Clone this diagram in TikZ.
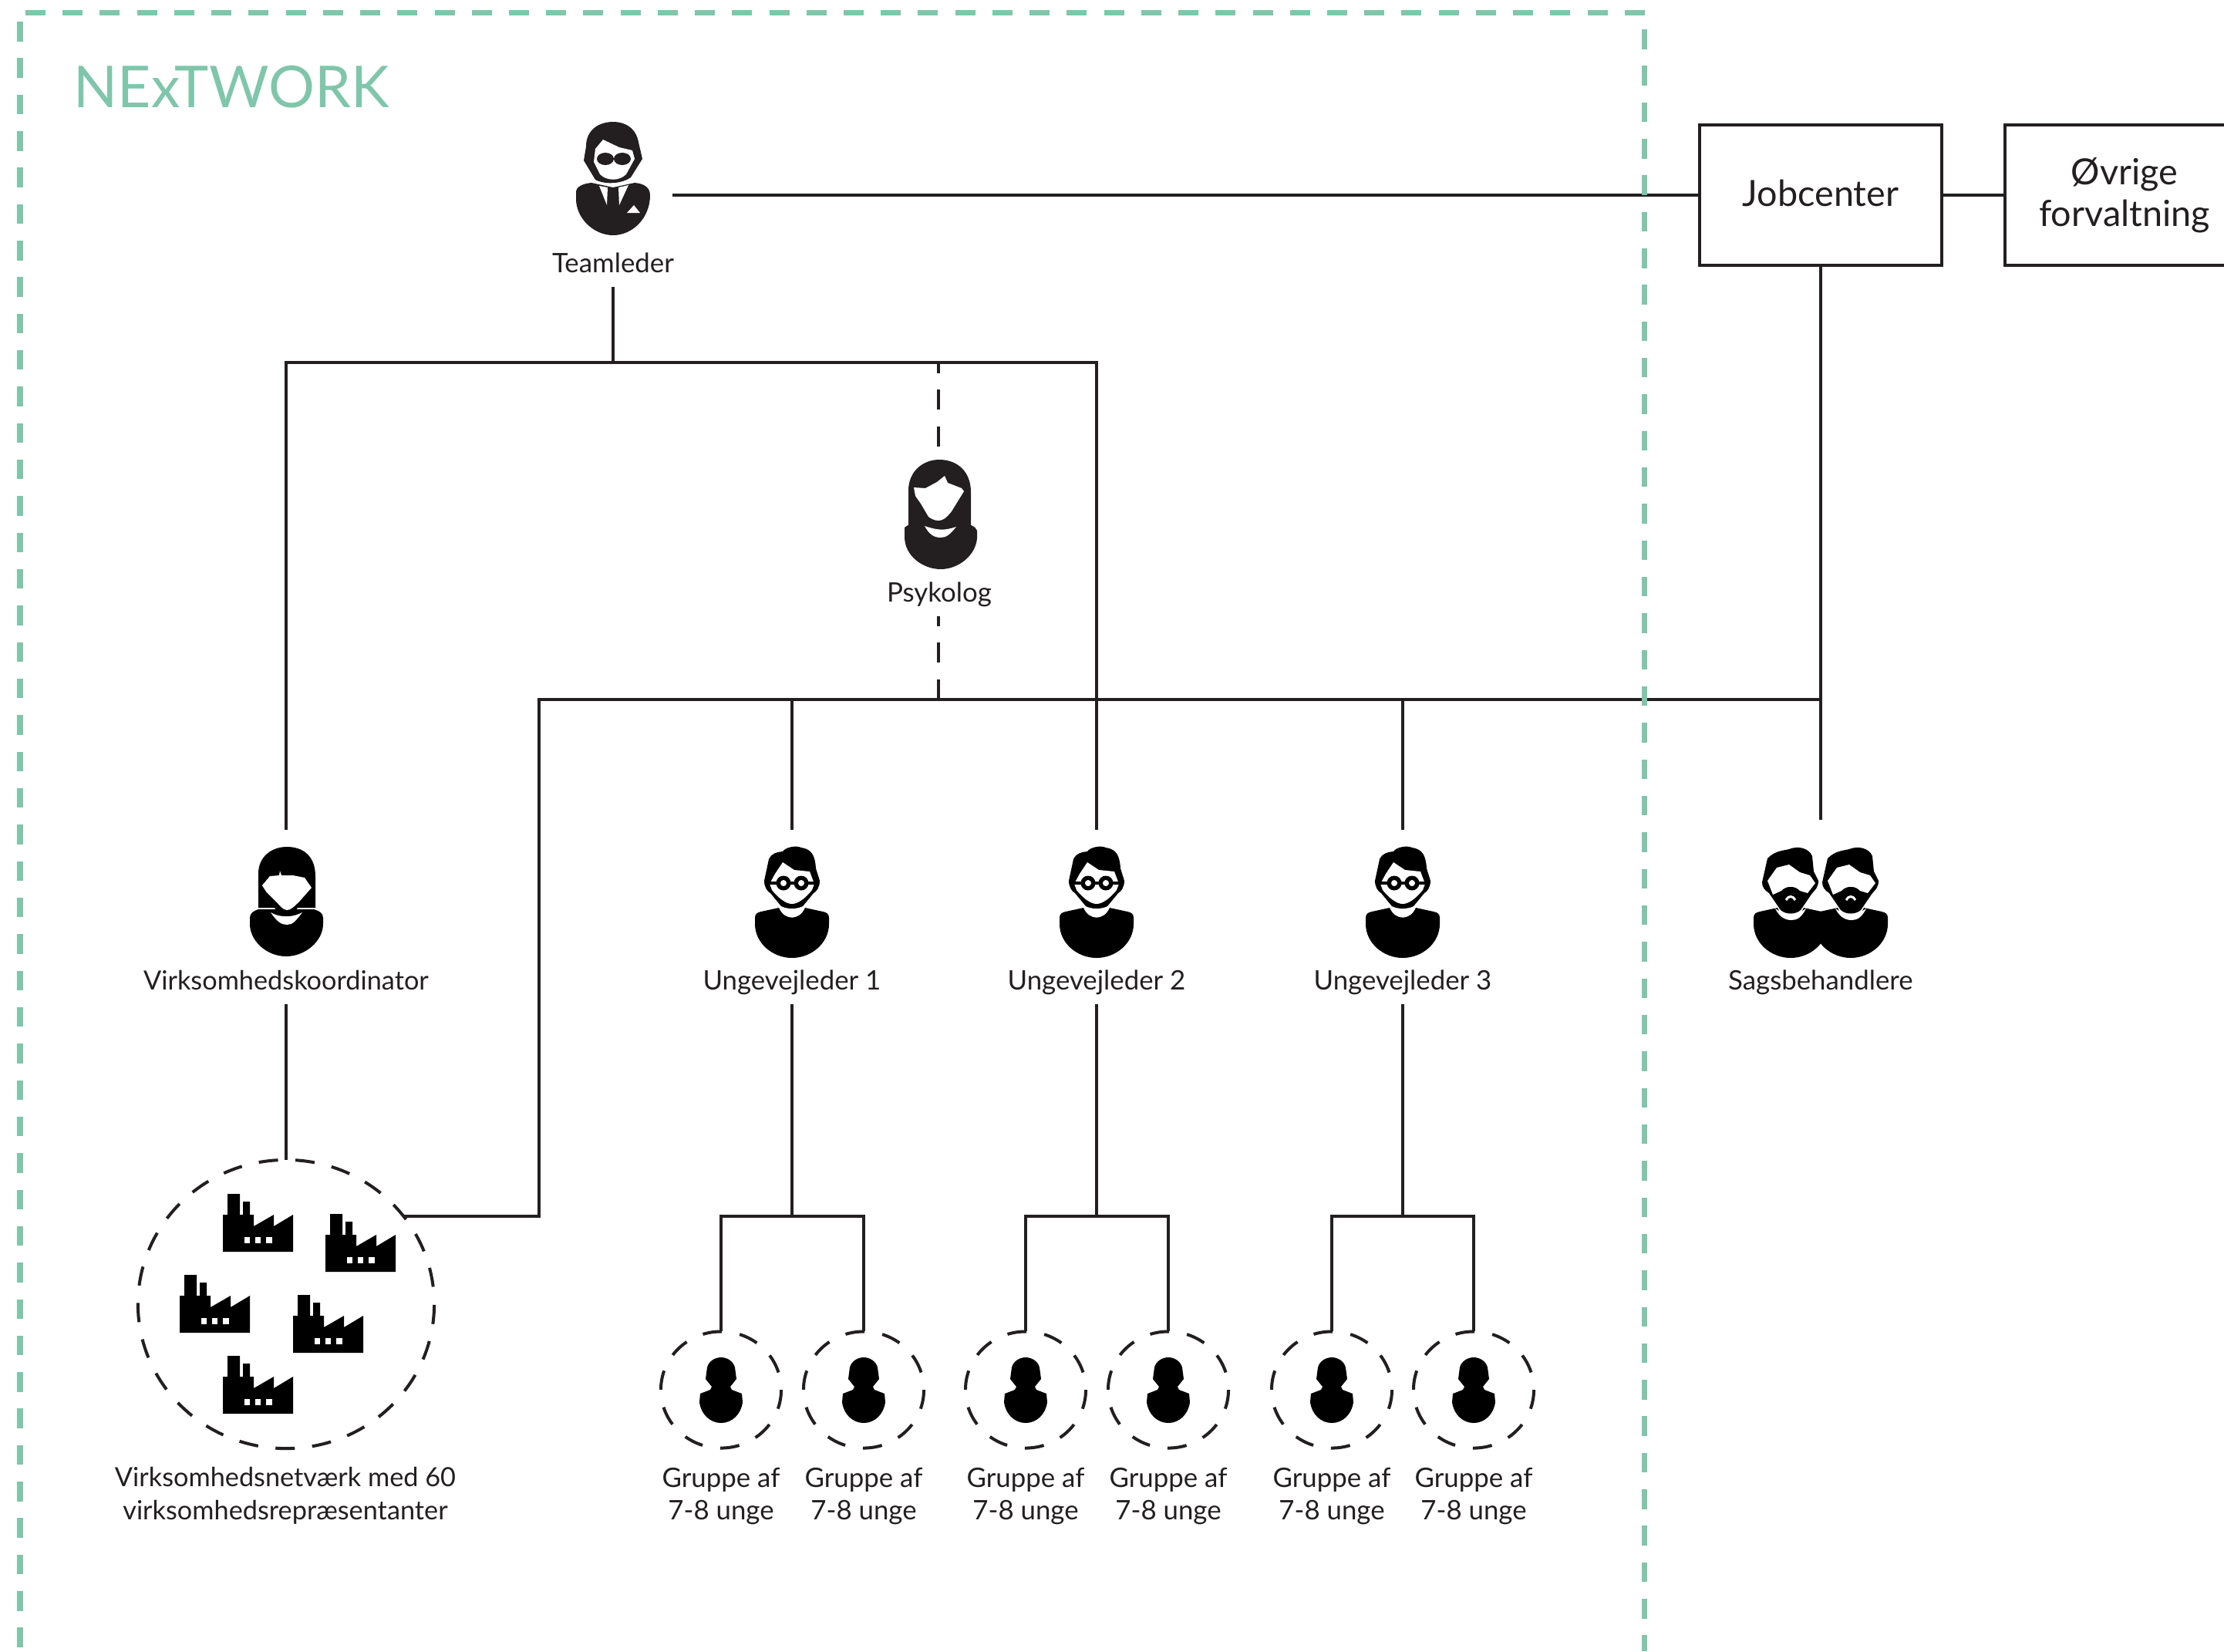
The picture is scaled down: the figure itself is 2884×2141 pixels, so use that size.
\documentclass[tikz,border=0pt]{standalone}
\usepackage{fontspec}
\setmainfont{Lato}
\usetikzlibrary{calc,positioning,shapes.geometric}

\definecolor{ink}{HTML}{231F20}
\definecolor{nextgreen}{HTML}{7FC6AB}

% people, origin at the top centre of the icon
\tikzset{
  pics/bodyshape/.style={code={
    \fill (-48,100) -- (-48,92) .. controls (-48,87) and (-45,85) .. (-40,84) -- (-17,79)
      .. controls (-10,96) and (10,96) .. (17,79) -- (40,84)
      .. controls (45,85) and (48,87) .. (48,92) -- (48,100)
      .. controls (48,125) and (25,144) .. (0,144)
      .. controls (-25,144) and (-48,125) .. (-48,100) -- cycle;
  }},
  pics/glasses/.style={code={
    \fill (-36,44) -- (-30,16) .. controls (-26,8) and (-20,7) .. (-12,6)
      .. controls (-8,0) and (6,-2) .. (12,1) .. controls (26,3) and (30,12) .. (31,28)
      -- (36,44) .. controls (36,52) and (32,58) .. (28,60) -- (14,77)
      .. controls (6,81) and (-6,81) .. (-14,77) -- (-28,60)
      .. controls (-32,58) and (-36,52) .. (-36,44) -- cycle;
    \fill[white] (-29,48) -- (-22,35) -- (-12,20) -- (3,30) -- (23,32) -- (29,48) -- (26,56)
      .. controls (18,66) and (8,74) .. (0,74) .. controls (-8,74) and (-18,66) .. (-26,56) -- cycle;
    \fill (-11,47) circle (9.5);
    \fill (12,47) circle (9.5);
    \fill (-32,45) rectangle (32,49);
    \fill[white] (-11,47) circle (4);
    \fill[white] (12,47) circle (4);
    \pic {bodyshape};
  }},
  pics/bearded/.style={code={
    \pic {bodyshape};
    \fill[white] (-20,80) .. controls (-10,88) and (10,88) .. (20,80)
      .. controls (14,92) and (8,95) .. (1,95) .. controls (-6,95) and (-14,92) .. (-20,80) -- cycle;
    \fill (-37,46) -- (-30,15) .. controls (-20,5) and (-10,5) .. (-2,3)
      .. controls (10,-2) and (24,2) .. (28,12) -- (30,32) -- (36,44)
      .. controls (36,52) and (32,56) .. (28,60) -- (13,82)
      .. controls (6,88) and (-6,88) .. (-13,82) -- (-28,60)
      .. controls (-34,56) and (-37,52) .. (-37,46) -- cycle;
    \fill[white] (-30,44) -- (-18,27) -- (-2,23) -- (12,33) -- (25,37) -- (32,47) -- (22,60)
      -- (12,57) .. controls (6,50) and (-6,50) .. (-12,57) -- (-23,62) -- cycle;
    \draw[white,line width=.03cm] (-6,69) .. controls (-3,63) and (3,63) .. (6,69);
  }},
  pics/bossman/.style={code={
    \fill (-48,100) -- (-48,90) .. controls (-48,85) and (-40,80) .. (-28,79) -- (0,85) -- (28,79)
      .. controls (40,80) and (48,85) .. (48,95)
      .. controls (48,125) and (25,147) .. (0,147)
      .. controls (-25,147) and (-48,125) .. (-48,100) -- cycle;
    \fill (-35,32) .. controls (-35,10) and (-18,0) .. (0,0) .. controls (16,0) and (28,8) .. (32,22)
      -- (38,48) -- (23,72) .. controls (12,80) and (-10,82) .. (-23,75) -- (-38,50) -- cycle;
    \fill[white] (-25,52) -- (-23,35) -- (-13,23) -- (8,33) -- (25,37) -- (28,48) -- (17,68)
      .. controls (8,77) and (-8,77) .. (-17,68) -- cycle;
    \fill (-10,48) ellipse (11 and 8);
    \fill (12,48) ellipse (11 and 8);
    \fill[white] (-18,83) -- (-8,108) -- (-7,85) -- cycle;
    \fill[white] (20,82) -- (8,108) -- (7,85) -- cycle;
    \fill[white] (18,118) -- (27,108) -- (35,118) -- cycle;
  }},
  pics/hairwoman/.style={code={
    \fill (-39,88) -- (-39,40) .. controls (-39,15) and (-20,0) .. (1,0)
      .. controls (24,0) and (42,15) .. (42,42) -- (42,88) -- cycle;
    \fill (-44,92) -- (-44,88) .. controls (-40,84) and (-34,83) .. (-30,84) -- (32,84)
      .. controls (40,83) and (48,86) .. (50,92) -- (50,102)
      .. controls (48,125) and (25,142) .. (3,142)
      .. controls (-20,142) and (-44,125) .. (-44,100) -- cycle;
    \fill[white] (-32,36) -- (-17,37) -- (-2,29) -- (8,21) -- (12,30) -- (30,37) -- (33,41)
      -- (17,67) .. controls (10,76) and (5,79) .. (0,79) .. controls (-6,79) and (-10,76) .. (-13,74)
      -- (-23,57) -- (-30,47) -- cycle;
    \fill[white] (-18,86) .. controls (0,92) and (8,92) .. (23,87)
      .. controls (15,97) and (10,101) .. (3,101) .. controls (-6,101) and (-12,97) .. (-18,86) -- cycle;
  }},
  pics/coordwoman/.style={code={
    \fill (-36,79) -- (-36,35) .. controls (-36,12) and (-18,0) .. (1,0)
      .. controls (22,0) and (38,12) .. (38,38) -- (38,79) -- (15,79) -- (8,88) -- (-8,88) -- (-15,79) -- cycle;
    \fill (-47,92) .. controls (-47,86) and (-42,83) .. (-36,81) -- (36,81)
      .. controls (43,83) and (48,86) .. (48,92) -- (48,100)
      .. controls (48,122) and (25,142) .. (0,142)
      .. controls (-25,142) and (-47,122) .. (-47,100) -- cycle;
    \fill[white] (-31,50) -- (-21,38) -- (-9,37) -- (-8,31) -- (-6,37) -- (9,37) -- (24,40) -- (33,53)
      -- (18,70) .. controls (10,78) and (6,82) .. (1,82) .. controls (-4,82) and (-8,76) .. (-14,70)
      -- (-26,58) -- cycle;
    \fill[white] (-20,85) .. controls (-8,92) and (8,92) .. (21,85)
      .. controls (12,97) and (8,101) .. (1,101) .. controls (-6,101) and (-12,97) .. (-20,85) -- cycle;
  }},
  pics/smallperson/.style={code={
    \fill (-18,13) .. controls (-16,5) and (-8,0) .. (0,0) .. controls (8,0) and (16,5) .. (18,13)
      -- (20,28) -- (12,38) -- (14,42) -- (27,47) -- (28,58)
      .. controls (26,74) and (14,85) .. (0,85) .. controls (-14,85) and (-26,74) .. (-28,58)
      -- (-27,47) -- (-14,42) -- (-12,38) -- (-20,28) -- cycle;
  }},
  pics/factory/.style={code={
    \fill (0,75) -- (0,27) -- (6,27) -- (6,0) -- (22,0) -- (22,27) -- (26,27) -- (26,10) -- (35,10)
      -- (35,27) -- (40,27) -- (40,42) -- (66,27) -- (66,42) -- (91,27) -- (91,75) -- cycle;
    \fill[white] (28,56) rectangle (35,64);
    \fill[white] (42,56) rectangle (49,64);
    \fill[white] (56,56) rectangle (64,64);
  }},
}

\begin{document}
\begin{tikzpicture}[
    x=0.01cm,y=-0.01cm,
    every node/.style={text=ink},
    conn/.style={draw=ink,line width=0.045cm},
    psykline/.style={conn,dash pattern=on 0.26cm off 0.215cm},
    frameh/.style={draw=nextgreen,line width=0.07cm,dash pattern=on 0.26cm off 0.222cm},
    framev/.style={draw=nextgreen,line width=0.07cm,dash pattern=on 0.255cm off 0.218cm},
    icon/.style={minimum width=1cm,minimum height=1.44cm,inner sep=0pt,outer sep=0.22cm},
    bossicon/.style={icon,minimum width=1.1cm,minimum height=1.48cm},
    lbl/.style={font=\fontsize{9.9}{12}\selectfont,inner xsep=0pt,inner ysep=0.16cm,
      text height=0.29cm,text depth=0.03cm,outer sep=0pt},
    narrowlbl/.style={font=\fontsize{9.75}{12}\selectfont},
    lowlbl/.style={font=\fontsize{9.9}{12}\selectfont,align=center,inner sep=0pt,anchor=north},
    box/.style={draw=ink,line width=0.045cm,minimum height=1.82cm,inner sep=0pt,align=center,
      font=\fontsize{13.3}{15.4}\selectfont},
    ring/.style={ellipse,draw=ink,line width=0.04cm,inner sep=0pt,outer sep=0pt},
    groupring/.style={ring,minimum width=1.56cm,minimum height=1.51cm,
      dash pattern=on 0.25cm off 0.2326cm,dash phase=0.254cm},
    factoryring/.style={ring,minimum width=3.84cm,minimum height=3.74cm,
      dash pattern=on 0.25cm off 0.226cm,dash phase=0.25cm},
  ]

  \useasboundingbox (0,0) rectangle (2884,2141);
  \clip (0,0) rectangle (2884,2141);

  \node (title) at (95,113) [anchor=west,inner sep=0pt,text=nextgreen,
    font=\fontsize{21.3}{25}\selectfont] {NExTWORK};

  % boxes on the right

  \node (jobcenter) at (2361,253) [box,minimum width=3.14cm,text depth=0.05cm] {Jobcenter};
  \node (oevrige) at (2755,253) [box,minimum width=3.1cm] {Øvrige\\forvaltning};

  % people

  \node (teamleder) at (795,232) [bossicon] {};
  \pic[ink] at (795,158) {bossman};
  \node (teamlbl) at (795,340) [lbl] {Teamleder};

  \node (psykolog) at (1217,673) [icon] {};
  \pic[ink] at (1217,596) {hairwoman};
  \node (psyklbl) at (1218,767) [lbl] {Psykolog};

  \node (koordinator) at (371,1170) [icon] {};
  \pic at (371,1098) {coordwoman};
  \node (koordlbl) at (371,1270) [lbl,narrowlbl] {Virksomhedskoordinator};

  \node (ung1) at (1027,1170) [icon] {};
  \node (ung2) at (1422,1170) [icon] {};
  \node (ung3) at (1819,1170) [icon] {};
  \foreach \n/\x in {1/1027,2/1422,3/1819} {
    \pic at (\x,1098) {glasses};
    \node (unglbl\n) at (\x,1270) [lbl] {Ungevejleder \n};
  }

  \node (sags) at (2361,1157) [icon] {};
  \pic at (2322,1098) {bearded};
  \pic at (2400,1098) {bearded};
  \node (sagslbl) at (2361,1270) [lbl] {Sagsbehandlere};

  % factories

  \node (factories) at (371,1691) [factoryring] {};
  \foreach \x/\y in {289/1548,422/1574,233/1653,380/1679,289/1758}
    \pic at (\x,\y) {factory};
  \node (factlbl) at (370,1902) [lowlbl,narrowlbl] {Virksomhedsnetværk med 60\\virksomhedsrepræsentanter};

  % groups

  \foreach \n/\x in {a/935,b/1120,c/1330,d/1515,e/1727,f/1911} {
    \node (group\n) at (\x,1802) [groupring] {};
    \pic at (\x,1760) {smallperson};
    \node (grouplbl\n) at (\x,1902) [lowlbl] {Gruppe af\\7-8 unge};
  }

  % lines from the top

  \coordinate (teamfork) at (795,470);
  \coordinate (psykfork) at (1217,470);
  \coordinate (midleft) at (699,907);
  \coordinate (midpsyk) at (1217,907);
  \coordinate (midright) at (2361,907);
  \coordinate (factexit) at (522,1577);

  \draw[conn] (teamleder.east |- jobcenter.west) -- (jobcenter.west);
  \draw[conn] (jobcenter.east) -- (oevrige.west);
  \draw[conn] (teamlbl.south) -- (teamfork);
  \draw[conn] (koordinator.north) |- (teamfork) -| (ung2.north);
  \draw[psykline] (psykolog.north) -- (psykfork);
  \draw[psykline] (midpsyk) -- (midpsyk |- psyklbl.south);

  \draw[conn] (jobcenter.south) -- (sags.north);
  \draw[conn] (factexit) -| (midleft) -- (midright);
  \draw[conn] (ung1.north) -- (ung1.north |- midleft);
  \draw[conn] (ung3.north) -- (ung3.north |- midleft);
  \draw[conn] (koordlbl.south) -- (factories.north);

  % lines down to the groups

  \foreach \n/\l/\r in {1/a/b,2/c/d,3/e/f} {
    \coordinate (fork\n) at (unglbl\n.south |- factexit);
    \draw[conn] (unglbl\n.south) -- (fork\n);
    \draw[conn] (group\l.north) |- (fork\n) -| (group\r.north);
  }

  % the frame goes over the lines

  \coordinate (framel) at (26,28);
  \coordinate (framet) at (33,16);
  \coordinate (framer) at (2132,38);
  \draw[framev] (framel) -- (26,2141);
  \draw[frameh] (framet) -- (2135,16);
  \draw[framev] (framer) -- (2132,2141);

\end{tikzpicture}
\end{document}
